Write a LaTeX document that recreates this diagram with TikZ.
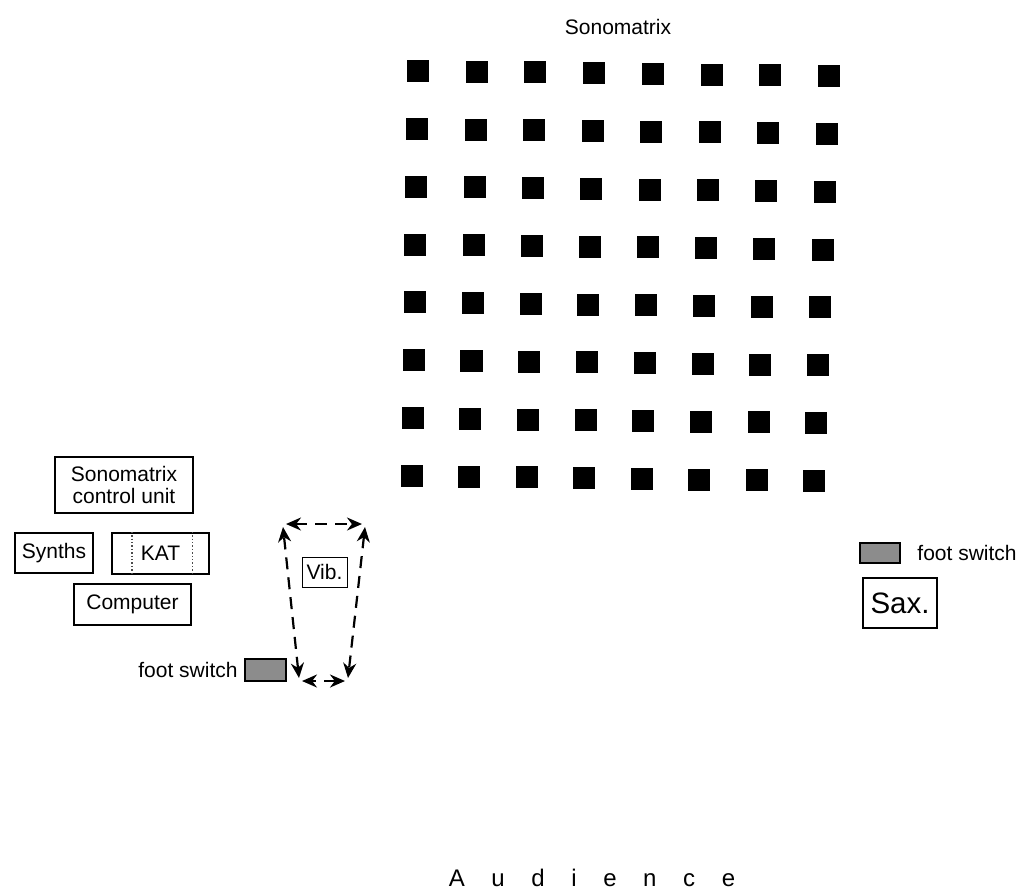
\documentclass[tikz,border=0pt]{standalone}
\usepackage{fontspec}
\setmainfont{Liberation Sans}
\usetikzlibrary{arrows.meta,calc}
\begin{document}
\begin{tikzpicture}[x=0.5pt,y=-0.5pt,
  lbl/.style={font=\fontsize{10.5}{11}\selectfont, inner sep=0},
  box/.style={draw, line width=1.2pt, inner sep=0, align=center, font=\fontsize{10.5}{11}\selectfont},
  sq/.style={fill=black, minimum size=11pt, inner sep=0},
  fsw/.style={draw, line width=1.1pt, fill=black!45, inner sep=0},
  vibarrow/.style={{Stealth[length=7.5pt,width=6.5pt]}-{Stealth[length=7.5pt,width=6.5pt]}, dash pattern=on 6pt off 4pt, line width=1.1pt}]
\useasboundingbox (0,0) rectangle (1020,890);

% title
\node[lbl] (title) at (618,27) {Sonomatrix};

% speaker grid
\foreach \r in {0,...,7}{
  \foreach \c in {0,...,7}{
    \pgfmathsetmacro\u{\c/7}
    \pgfmathsetmacro\v{\r/7}
    \pgfmathsetmacro\px{(1-\u)*(1-\v)*418+\u*(1-\v)*829+(1-\u)*\v*412+\u*\v*814}
    \pgfmathsetmacro\py{(1-\u)*(1-\v)*71+\u*(1-\v)*76+(1-\u)*\v*476+\u*\v*481}
    \node[sq] (s\r\c) at (\px,\py) {};
  }
}

% left equipment
\node[box, minimum width=69pt, minimum height=28pt] (ctrl) at (124,485) {Sonomatrix\\control unit};
\node[box, minimum width=39pt, minimum height=20pt] (synths) at (54,553) {Synths};
\node[box, minimum width=48.5pt, minimum height=20.5pt] (kat) at (160.5,553.5) {KAT};
\draw[line width=0.7pt, gray!60!black, densely dotted] ($(kat.north west)+(21,0)$) -- ($(kat.south west)+(21,0)$);
\draw[line width=0.7pt, gray!60!black, densely dotted] ($(kat.north east)+(-18,0)$) -- ($(kat.south east)+(-18,0)$);
\node[box, minimum width=58.5pt, minimum height=20.5pt] (comp) at (132.5,604.5) {Computer};

% vibraphone
\node[draw, line width=0.5pt, inner sep=0, minimum width=22.5pt, minimum height=15pt, font=\fontsize{10.5}{11}\selectfont] (vib) at (324.5,572) {Vib.};
\coordinate (vtl) at (283,527);
\coordinate (vtlb) at (286,524);
\coordinate (vtr) at (362,524);
\coordinate (vtrb) at (365,527);
\coordinate (vbr) at (348,678);
\coordinate (vbrb) at (345,681);
\coordinate (vbl) at (302,681);
\coordinate (vblb) at (299,678);
\draw[vibarrow] (vblb) -- (vtl);
\draw[vibarrow] (vtlb) -- (vtr);
\draw[vibarrow] (vtrb) -- (vbr);
\draw[vibarrow] (vbrb) -- (vbl);

% foot switches
\node[fsw, minimum width=20.5pt, minimum height=11pt] (fs1) at (265.5,670) {};
\node[lbl, anchor=east] (fs1l) at (238,670) {foot switch};
\node[fsw, minimum width=20pt, minimum height=10pt] (fs2) at (880,553) {};
\node[lbl, anchor=west] (fs2l) at (917,553) {foot switch};

% saxophone
\node[draw, line width=1pt, inner sep=0, minimum width=37pt, minimum height=25pt, font=\fontsize{14.75}{16}\selectfont] (sax) at (900,603) {Sax.};

% audience
\node[font=\fontsize{12}{14}\selectfont, inner sep=0, anchor=base] (aud) at (592,886) {\spaceskip=13.3pt A u d i e n c e};
\end{tikzpicture}
\end{document}
